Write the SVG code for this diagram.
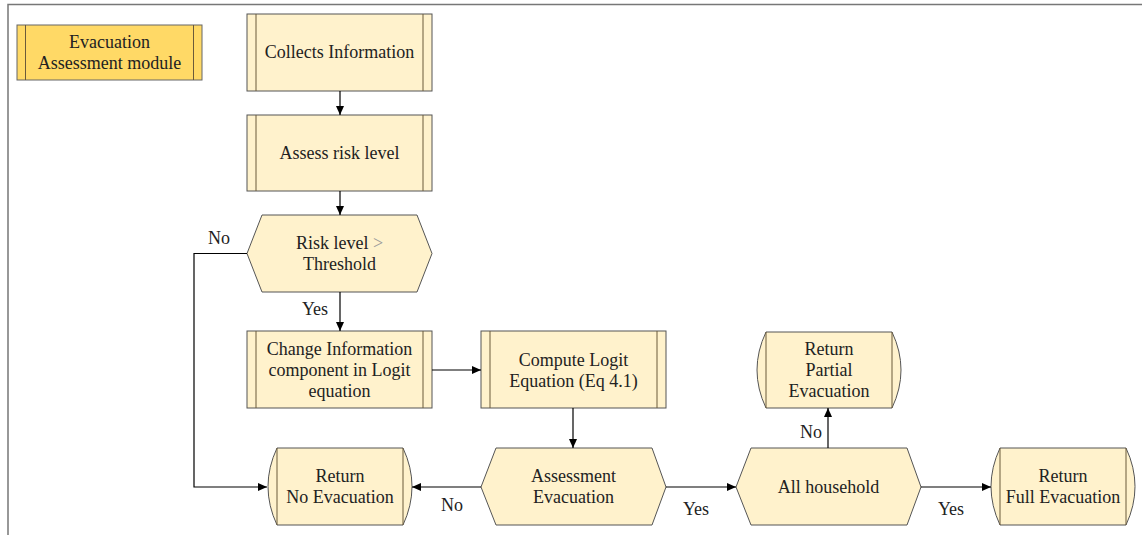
<svg xmlns="http://www.w3.org/2000/svg" width="1142" height="535" viewBox="0 0 1142 535">
<defs>
<marker id="arr" markerWidth="10" markerHeight="8" refX="9" refY="4" orient="auto" markerUnits="userSpaceOnUse">
<path d="M0,0 L9,4 L0,8 Z" fill="#000"/>
</marker>
<style>
.box{fill:#FFF2CC;stroke:#555;stroke-width:1}
.gold{fill:#FFD966;stroke:#666;stroke-width:1}
.bar{stroke:#6b5a3a;stroke-width:1;fill:none}
.t{font-family:"Liberation Serif","Times New Roman",serif;font-size:18px;fill:#222;text-anchor:middle}
.lbl{font-family:"Liberation Serif","Times New Roman",serif;font-size:18px;fill:#222;text-anchor:middle}
.c{stroke:#000;stroke-width:1.2;fill:none;marker-end:url(#arr)}
.frame{stroke:#777;stroke-width:1.5;fill:none}
</style>
</defs>
<g id="frame"><path class="frame" d="M8,535 V4.5 H1142"/></g>

<g id="module">
<rect class="gold" x="17" y="25" width="185" height="55"/>
<line class="bar" x1="25.5" y1="25" x2="25.5" y2="80"/>
<line class="bar" x1="193.5" y1="25" x2="193.5" y2="80"/>
<text class="t" x="109.5" y="48">Evacuation</text>
<text class="t" x="109.5" y="69">Assessment module</text>
</g>

<g id="collects">
<rect class="box" x="247" y="14" width="185" height="77"/>
<line class="bar" x1="256" y1="14" x2="256" y2="91"/>
<line class="bar" x1="423" y1="14" x2="423" y2="91"/>
<text class="t" x="339.5" y="58">Collects Information</text>
</g>

<g id="assess">
<rect class="box" x="247" y="115" width="185" height="76"/>
<line class="bar" x1="256" y1="115" x2="256" y2="191"/>
<line class="bar" x1="423" y1="115" x2="423" y2="191"/>
<text class="t" x="339.5" y="159">Assess risk level</text>
</g>

<g id="risk">
<polygon class="box" points="247,253.5 262,215 417,215 432,253.5 417,292 262,292"/>
<text class="t" x="339.5" y="249">Risk level <tspan fill="#9a9a9a">&gt;</tspan></text>
<text class="t" x="339.5" y="270">Threshold</text>
</g>

<g id="change">
<rect class="box" x="247" y="331" width="185" height="77"/>
<line class="bar" x1="256" y1="331" x2="256" y2="408"/>
<line class="bar" x1="423" y1="331" x2="423" y2="408"/>
<text class="t" x="339.5" y="355">Change Information</text>
<text class="t" x="339.5" y="376">component in Logit</text>
<text class="t" x="339.5" y="397">equation</text>
</g>

<g id="compute">
<rect class="box" x="481" y="331" width="185" height="77"/>
<line class="bar" x1="490" y1="331" x2="490" y2="408"/>
<line class="bar" x1="657" y1="331" x2="657" y2="408"/>
<text class="t" x="573.5" y="366">Compute Logit</text>
<text class="t" x="573.5" y="387">Equation (Eq 4.1)</text>
</g>

<g id="noevac">
<path class="box" d="M277,448 H403 Q421,486.5 403,525 H277 Q259,486.5 277,448 Z"/>
<line class="bar" x1="277" y1="448" x2="277" y2="525"/>
<line class="bar" x1="403" y1="448" x2="403" y2="525"/>
<text class="t" x="340" y="482">Return</text>
<text class="t" x="340" y="503">No Evacuation</text>
</g>

<g id="assessevac">
<polygon class="box" points="481,487 496,448 652,448 666,487 652,525 496,525"/>
<text class="t" x="573.5" y="482">Assessment</text>
<text class="t" x="573.5" y="503">Evacuation</text>
</g>

<g id="allhouse">
<polygon class="box" points="736,487 751,448 907,448 921,487 907,525 751,525"/>
<text class="t" x="828.5" y="493">All household</text>
</g>

<g id="partial">
<path class="box" d="M766,332 H892 Q910,370 892,408 H766 Q748,370 766,332 Z"/>
<line class="bar" x1="766" y1="332" x2="766" y2="408"/>
<line class="bar" x1="892" y1="332" x2="892" y2="408"/>
<text class="t" x="829" y="355">Return</text>
<text class="t" x="829" y="376">Partial</text>
<text class="t" x="829" y="397">Evacuation</text>
</g>

<g id="full">
<path class="box" d="M1000,448 H1126 Q1144,486.5 1126,525 H1000 Q982,486.5 1000,448 Z"/>
<line class="bar" x1="1000" y1="448" x2="1000" y2="525"/>
<line class="bar" x1="1126" y1="448" x2="1126" y2="525"/>
<text class="t" x="1063" y="482">Return</text>
<text class="t" x="1063" y="503">Full Evacuation</text>
</g>

<g id="connectors">
<line class="c" x1="340" y1="91" x2="340" y2="115"/>
<line class="c" x1="340" y1="191" x2="340" y2="215"/>
<line class="c" x1="340" y1="292" x2="340" y2="331"/>
<path class="c" d="M247,253.5 H194 V487 H267"/>
<line class="c" x1="432" y1="370" x2="481" y2="370"/>
<line class="c" x1="573" y1="408" x2="573" y2="448"/>
<line class="c" x1="481" y1="487" x2="412" y2="487"/>
<line class="c" x1="666" y1="487" x2="736" y2="487"/>
<line class="c" x1="828" y1="448" x2="828" y2="408"/>
<line class="c" x1="921" y1="487" x2="991" y2="487"/>
<text class="lbl" x="315" y="315">Yes</text>
<text class="lbl" x="219" y="244">No</text>
<text class="lbl" x="452" y="511">No</text>
<text class="lbl" x="696" y="515">Yes</text>
<text class="lbl" x="811" y="438">No</text>
<text class="lbl" x="951" y="515">Yes</text>
</g>
</svg>
